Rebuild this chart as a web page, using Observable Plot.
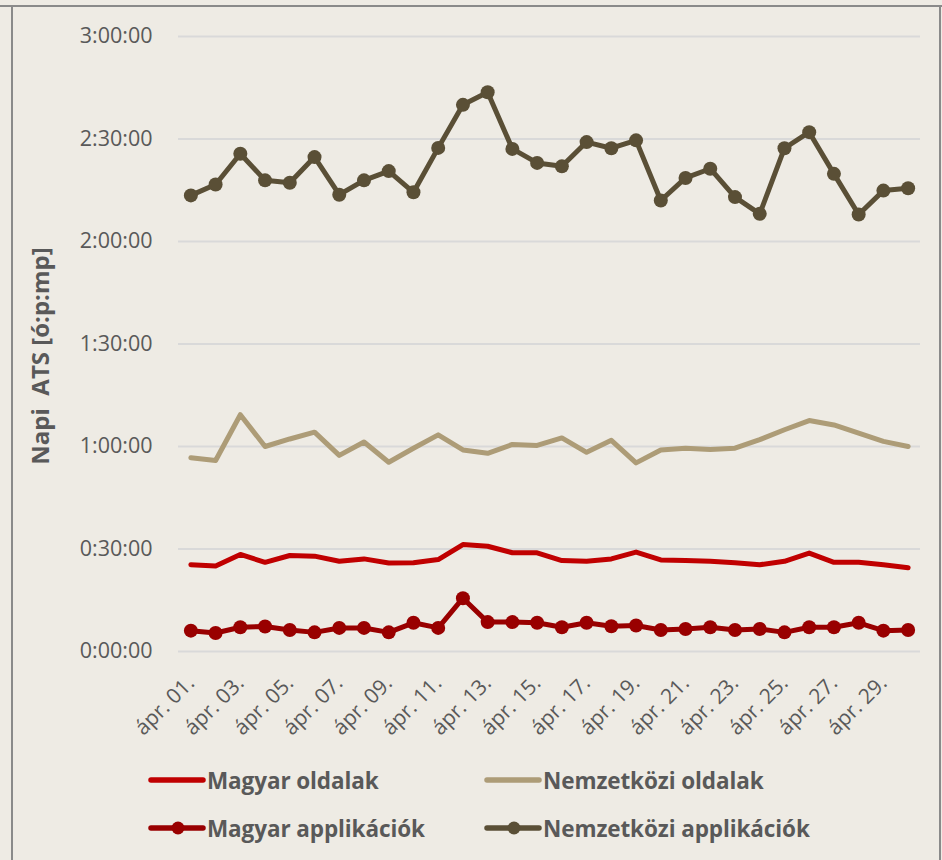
<!DOCTYPE html>
<html>
<head>
<meta charset="utf-8">
<script src="https://cdn.jsdelivr.net/npm/d3@7"></script>
<script src="https://cdn.jsdelivr.net/npm/@observablehq/plot@0.6"></script>
<style>
  html, body { margin: 0; padding: 0; background: #EEEBE4; }
  body { width: 942px; height: 860px; position: relative; overflow: hidden; font-family: "Open Sans", sans-serif; }
  .hline { position: absolute; left: 0; top: 5px; width: 942px; height: 2px; background: #8a8a8a; }
  .vline { position: absolute; top: 6px; width: 2px; height: 860px; background: #8a8a8a; }
  #chart { position: absolute; left: 0; top: 0; }
  #legend { position: absolute; left: 0; top: 0; width: 942px; }
  .item { position: absolute; display: flex; align-items: center; font-weight: 700; font-size: 22.5px; color: #595959; white-space: nowrap; letter-spacing: -0.1px; }
  .item svg { display: block; margin-right: 1px; }
</style>
</head>
<body>
<div class="hline"></div>
<div class="vline" style="left:11px"></div>
<div class="vline" style="left:939px"></div>
<div id="chart"></div>
<div id="legend"></div>
<script>
const days = ["01","02","03","04","05","06","07","08","09","10","11","12","13","14","15","16","17","18","19","20","21","22","23","24","25","26","27","28","29","30"];
const tickDays = ["01","03","05","07","09","11","13","15","17","19","21","23","25","27","29"];
const yTicks = [0, 30, 60, 90, 120, 150, 180];
const yTitle = "Napi\u00a0 ATS [ó:p:mp]";

const seriesNames = ["Magyar oldalak", "Nemzetközi oldalak", "Magyar applikációk", "Nemzetközi applikációk"];
const seriesColors = ["#C00000", "#AD9C77", "#990000", "#5A4F36"];

// values in minutes
const magyarOldalak = [25.4,25.0,28.4,26.1,28.1,27.9,26.4,27.1,25.9,26.0,26.9,31.3,30.8,28.9,28.9,26.6,26.4,27.1,29.1,26.8,26.6,26.4,26.0,25.4,26.4,28.8,26.1,26.1,25.4,24.5];
const nemzetkoziOldalak = [56.7,55.9,69.3,60.0,62.2,64.2,57.4,61.3,55.4,59.5,63.4,59.0,58.0,60.6,60.3,62.5,58.3,61.8,55.2,59.0,59.5,59.1,59.5,62.0,64.9,67.6,66.3,63.9,61.5,60.0];
const magyarApplikaciok = [6.1,5.4,7.1,7.3,6.3,5.6,6.9,6.9,5.6,8.4,6.9,15.6,8.6,8.6,8.4,7.1,8.4,7.4,7.6,6.3,6.6,7.1,6.3,6.6,5.6,7.1,7.1,8.4,6.1,6.3];
const nemzetkoziApplikaciok = [133.5,136.7,145.7,137.9,137.2,144.7,133.7,137.9,140.6,134.4,147.4,160.0,163.7,147.1,143.0,142.0,149.1,147.3,149.6,132.0,138.6,141.3,133.0,128.1,147.3,152.0,139.8,127.9,134.9,135.6];

const allSeries = [magyarOldalak, nemzetkoziOldalak, magyarApplikaciok, nemzetkoziApplikaciok];
const withDots = [false, false, true, true];

const rows = [];
allSeries.forEach((vals, si) => vals.forEach((v, i) => rows.push({series: seriesNames[si], day: days[i], value: v})));

const fmt = m => `${Math.floor(m / 60)}:${String(m % 60).padStart(2, "0")}:00`;

const marks = [
  Plot.gridY(yTicks, {stroke: "#D9D9D9", strokeOpacity: 1, strokeWidth: 2}),
  Plot.axisY({ticks: yTicks, tickFormat: fmt, tickSize: 0, tickPadding: 26, fontSize: 21.5, label: null}),
  Plot.axisX({ticks: tickDays, tickFormat: d => `ápr. ${d}.`, tickRotate: -45, tickSize: 0, tickPadding: 28, fontSize: 21, label: null}),
  Plot.text([yTitle], {frameAnchor: "left", rotate: -90, dx: -137, dy: 12, fontSize: 24, fontWeight: 700,
    textAnchor: "middle", lineAnchor: "middle", fill: "#595959"})
];
seriesNames.forEach((name, si) => {
  const data = rows.filter(r => r.series === name);
  marks.push(Plot.line(data, {x: "day", y: "value", stroke: seriesColors[si], strokeWidth: 5, strokeLinejoin: "round", strokeLinecap: "round"}));
  if (withDots[si]) marks.push(Plot.dot(data, {x: "day", y: "value", fill: seriesColors[si], r: 7}));
});

const chart = Plot.plot({
  width: 942,
  height: 760,
  marginTop: 36,
  marginBottom: 109,
  marginLeft: 178,
  marginRight: 22,
  style: {background: "transparent", color: "#595959", fontFamily: "Open Sans", fontSize: "21px"},
  x: {type: "point", domain: days, padding: 0.5, round: false},
  y: {domain: [0, 180]},
  marks
});
document.getElementById("chart").appendChild(chart);

// legend
const legendPos = [[148, 780], [484, 780], [148, 828], [484, 828]];
const legend = document.getElementById("legend");
seriesNames.forEach((name, si) => {
  const item = document.createElement("div");
  item.className = "item";
  item.style.left = legendPos[si][0] + "px";
  item.style.top = (legendPos[si][1] - 15) + "px";
  item.style.height = "30px";
  const dot = withDots[si] ? `<circle cx="30" cy="15" r="6.5" fill="${seriesColors[si]}"/>` : "";
  item.innerHTML = `<svg width="58" height="30"><line x1="3" y1="15" x2="55" y2="15" stroke="${seriesColors[si]}" stroke-width="5.5" stroke-linecap="round"/>${dot}</svg><span>${name}</span>`;
  legend.appendChild(item);
});
</script>
</body>
</html>
